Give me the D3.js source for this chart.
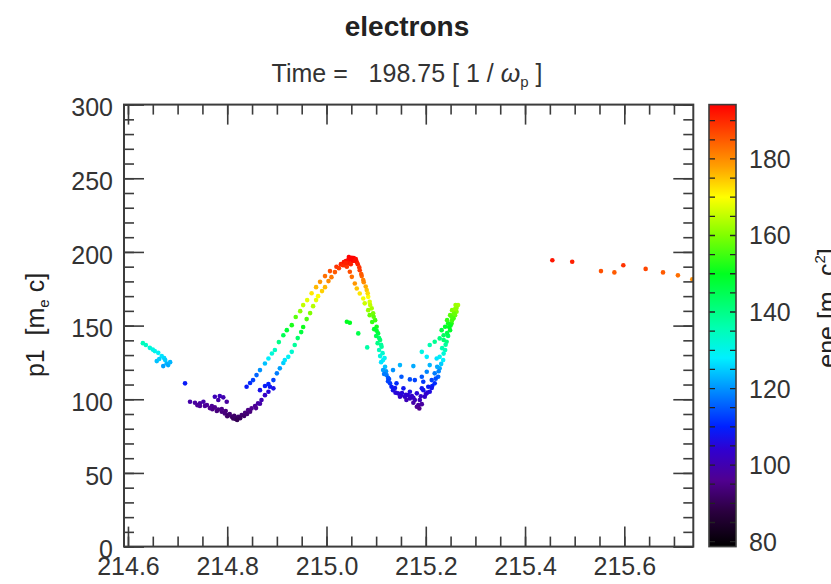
<!DOCTYPE html>
<html>
<head>
<meta charset="utf-8">
<script src="https://cdn.jsdelivr.net/npm/d3@7"></script>
<style>
  body { margin: 0; background: #fff; }
  text { font-family: "Liberation Sans", Arial, Helvetica, sans-serif; }
</style>
</head>
<body>
<svg id="chart" width="831" height="584"></svg>
<script>
// ---- data: [x1 (c/wp), p1 (me c), ene (me c^2)] ----
var leftCluster = [
  [214.630, 138.1, 135], [214.636, 136.8, 134], [214.644, 134.9, 132], [214.650, 133.7, 131],
  [214.654, 132.7, 130], [214.661, 131.5, 129], [214.668, 129.3, 127], [214.673, 127.9, 126],
  [214.675, 126.6, 125], [214.678, 124.3, 123], [214.658, 125.9, 124], [214.663, 127.3, 125],
  [214.671, 122.5, 121], [214.681, 123.2, 122], [214.685, 125.2, 123], [214.715, 110.8, 109]
]
var trough = [
  [214.725, 98.3, 99], [214.735, 97.6, 98], [214.745, 97.2, 98], [214.752, 98.3, 99],
  [214.759, 96.1, 97], [214.769, 95.4, 97], [214.775, 94.5, 96], [214.782, 93.1, 95],
  [214.789, 91.5, 94], [214.795, 90.4, 94], [214.802, 89.3, 93], [214.809, 88.1, 92],
  [214.816, 87.4, 91], [214.822, 88.1, 92], [214.829, 89.3, 93], [214.836, 90.8, 94],
  [214.842, 92.7, 95], [214.849, 93.8, 96], [214.856, 95.4, 97], [214.862, 97.2, 98],
  [214.869, 99.5, 100], [214.876, 102.8, 103], [214.883, 105.1, 105], [214.886, 108.5, 108],
  [214.893, 107.4, 107], [214.789, 93.3, 95], [214.805, 90.0, 93], [214.817, 86.6, 91],
  [214.826, 87.2, 91], [214.812, 86.9, 91], [214.834, 88.6, 92], [214.797, 92.0, 94],
  [214.770, 93.3, 95], [214.745, 95.4, 97], [214.775, 101.7, 101], [214.785, 102.2, 101],
  [214.792, 101.3, 100], [214.782, 99.5, 99], [214.799, 98.3, 98],
  [214.740, 96.0, 97], [214.755, 95.5, 97], [214.765, 94.0, 96], [214.779, 92.0, 94],
  [214.800, 88.5, 92], [214.814, 88.8, 92], [214.820, 86.0, 90], [214.840, 90.0, 93],
  [214.846, 91.5, 94], [214.858, 94.0, 96], [214.866, 97.0, 99]
]
var risingOuter = [
  [214.839, 108.5, 109], [214.846, 111.0, 111], [214.852, 113.0, 113], [214.859, 116.4, 116],
  [214.866, 119.8, 120], [214.876, 124.3, 124], [214.883, 127.7, 128], [214.890, 131.1, 132],
  [214.896, 133.4, 134], [214.904, 138.8, 140], [214.913, 143.5, 145], [214.920, 146.9, 148],
  [214.930, 150.3, 152], [214.938, 155.8, 157], [214.947, 159.8, 161], [214.953, 163.9, 165],
  [214.961, 167.3, 168], [214.970, 172.0, 172], [214.979, 176.1, 176], [214.987, 179.7, 179],
  [214.997, 183.6, 183], [215.007, 187.0, 186], [215.020, 189.9, 189], [215.029, 191.7, 191],
  [215.039, 193.8, 193], [215.047, 194.8, 194]
]
var risingInner = [
  [214.866, 106.2, 107], [214.876, 109.0, 109], [214.883, 110.3, 110], [214.893, 113.0, 113],
  [214.900, 117.6, 118], [214.906, 121.0, 121], [214.913, 124.6, 125], [214.916, 126.6, 127],
  [214.923, 128.8, 129], [214.930, 132.2, 133], [214.936, 136.8, 138], [214.942, 141.5, 143],
  [214.949, 145.6, 147], [214.953, 149.0, 151], [214.960, 154.4, 156], [214.967, 158.5, 160],
  [214.973, 163.2, 164], [214.979, 167.3, 168], [214.983, 170.0, 170], [214.991, 173.4, 174],
  [214.997, 176.1, 176], [215.004, 180.2, 180], [215.010, 182.9, 182], [215.017, 186.3, 185],
  [215.025, 189.0, 188], [215.033, 191.0, 190]
]
var peak = [
  [215.035, 193.1, 192], [215.043, 194.4, 193], [215.047, 195.8, 194], [215.051, 196.1, 194],
  [215.055, 195.8, 194], [215.059, 195.1, 193], [215.053, 193.8, 193], [215.045, 192.4, 192],
  [215.061, 193.1, 192], [215.037, 191.0, 190], [215.041, 190.0, 189], [215.049, 191.7, 191],
  [215.045, 196.5, 194], [215.050, 195.0, 194], [215.057, 194.0, 193], [215.039, 192.5, 191]
]
var descentOuter = [
  [215.063, 191.7, 191], [215.067, 187.6, 188], [215.071, 183.6, 184], [215.075, 179.5, 180],
  [215.081, 174.1, 175], [215.084, 169.5, 170], [215.087, 166.1, 167], [215.091, 161.7, 163],
  [215.094, 158.3, 159], [215.098, 153.7, 155], [215.101, 149.2, 151], [215.104, 144.7, 147],
  [215.108, 140.2, 142], [215.111, 135.6, 138], [215.113, 131.3, 133], [215.114, 126.6, 129],
  [215.118, 122.0, 124], [215.121, 116.4, 118], [215.128, 110.8, 112], [215.134, 106.2, 107],
  [215.144, 104.0, 105], [215.158, 101.7, 103], [215.168, 100.6, 102], [215.178, 99.5, 101],
  [215.185, 96.1, 98], [215.188, 99.5, 101], [215.198, 101.7, 103], [215.208, 105.1, 106],
  [215.218, 110.8, 111], [215.225, 115.3, 116], [215.228, 121.0, 122], [215.235, 126.6, 128],
  [215.239, 133.4, 135], [215.242, 139.0, 141], [215.249, 146.9, 149], [215.252, 151.5, 153],
  [215.259, 157.1, 158], [215.262, 159.4, 160], [215.265, 163.9, 163]
]
var descentBand = [
  [215.066, 189.5, 189], [215.070, 185.0, 185], [215.074, 181.0, 181], [215.079, 176.5, 177],
  [215.083, 172.0, 173], [215.088, 164.0, 165], [215.095, 156.0, 157], [215.101, 146.5, 148],
  [215.106, 141.5, 143], [215.110, 137.0, 138], [215.117, 128.0, 129], [215.120, 119.0, 120],
  [215.124, 114.5, 115], [215.131, 108.5, 109], [215.139, 104.5, 105], [215.150, 102.5, 104],
  [215.160, 103.0, 104], [215.175, 101.0, 102], [215.190, 102.0, 103], [215.203, 104.5, 105],
  [215.213, 109.0, 110], [215.220, 114.0, 114], [215.226, 119.0, 119], [215.231, 124.0, 125],
  [215.236, 131.0, 132], [215.240, 137.0, 138], [215.245, 143.0, 144], [215.250, 150.0, 151],
  [215.256, 155.0, 155], [215.262, 162.0, 161], [215.260, 164.0, 162]
]
var descentInner = [
  [215.047, 186.5, 186], [215.051, 183.1, 183], [215.057, 178.6, 179], [215.061, 175.2, 175],
  [215.067, 171.8, 172], [215.074, 168.4, 169], [215.077, 165.1, 166], [215.084, 160.5, 162],
  [215.087, 157.1, 158], [215.092, 152.4, 154], [215.096, 147.6, 149], [215.100, 142.9, 145],
  [215.103, 138.1, 140], [215.106, 133.4, 135], [215.108, 129.3, 131], [215.110, 125.2, 127],
  [215.114, 119.8, 121]
]
var loopInner = [
  [215.126, 113.7, 114], [215.141, 110.8, 111], [215.155, 107.4, 108], [215.168, 105.1, 106],
  [215.182, 104.0, 105], [215.195, 106.2, 107], [215.205, 108.5, 109], [215.212, 113.0, 113],
  [215.218, 117.6, 118], [215.223, 122.0, 122], [215.228, 128.8, 129], [215.233, 134.7, 136],
  [215.236, 140.2, 142], [215.243, 144.9, 146], [215.247, 149.0, 150], [215.253, 153.7, 155],
  [215.257, 158.3, 159]
]
var loopBottom = [
  [215.148, 101.7, 103], [215.161, 99.5, 101], [215.175, 97.6, 99], [215.182, 94.9, 97],
  [215.187, 93.8, 96], [215.192, 96.7, 98], [215.152, 104.2, 105], [215.164, 102.8, 104],
  [215.172, 102.2, 103], [215.200, 103.5, 104], [215.212, 107.6, 108], [215.138, 107.6, 108],
  [215.124, 112.3, 113], [215.116, 117.1, 118]
]
var loopScatter = [
  [215.148, 123.2, 123], [215.175, 122.5, 122], [215.134, 119.8, 120], [215.151, 115.3, 115],
  [215.168, 113.5, 114], [215.178, 113.0, 113], [215.192, 115.3, 115], [215.202, 118.7, 119],
  [215.208, 123.2, 123], [215.195, 111.9, 112], [215.192, 107.4, 108], [215.192, 132.2, 131],
  [215.202, 128.8, 128], [215.208, 136.8, 136], [215.218, 139.0, 139], [215.222, 127.7, 127],
  [215.228, 141.3, 141], [215.232, 146.9, 147], [215.239, 149.2, 149], [215.245, 151.5, 151],
  [215.249, 157.1, 157], [215.252, 156.0, 156], [215.257, 158.3, 158], [215.236, 143.5, 144],
  [215.243, 153.7, 154], [215.253, 160.5, 160], [215.259, 161.2, 161]
]
var strayGreen = [
  [215.041, 152.6, 150], [215.047, 151.9, 150], [215.064, 144.7, 146], [215.082, 135.2, 137]
]
var farRight = [
  [215.455, 194.4, 192], [215.495, 193.3, 191], [215.553, 187.0, 186], [215.580, 186.1, 185],
  [215.598, 191.0, 189], [215.643, 188.5, 187], [215.678, 186.1, 185], [215.708, 184.1, 183],
  [215.737, 181.5, 180]
]

// axis ranges and ticks
var xRange = [214.592, 215.739]
var yRange = [0, 300]
var eneRange = [78.7, 194.2]
var xMajor = [214.6, 214.8, 215.0, 215.2, 215.4, 215.6]
var yMajor = [0, 50, 100, 150, 200, 250, 300]
var cbLabels = [80, 100, 120, 140, 160, 180]

// colour table (black -> purple -> blue -> cyan -> green -> yellow -> red)
var cmapStops = [78.7, 88, 96, 104, 110, 117, 128, 136, 150, 160, 170, 178, 186, 194.2]
var cmapColors = ["#000000", "#2b0040", "#500090", "#3000d0", "#0020ff", "#0070ff", "#00f0ff",
  "#00ffb0", "#00ff20", "#80ff00", "#ffff00", "#ffa000", "#ff5000", "#ff0000"]

var WIDTH = 831, HEIGHT = 584
var PLOT = { left: 124, right: 693.3, top: 104.6, bottom: 546.6 }
var CB = { left: 709, right: 736 }
var AXIS_COLOR = "#3c3c3c"
var LABEL_COLOR = "#333"
var MAJOR = 20, MINOR = 10

var svg = d3.select("#chart")
svg.append("rect").attr("width", WIDTH).attr("height", HEIGHT).attr("fill", "white")

var x = d3.scaleLinear().domain(xRange).range([PLOT.left, PLOT.right])
var y = d3.scaleLinear().domain(yRange).range([PLOT.bottom, PLOT.top])
var cbY = d3.scaleLinear().domain(eneRange).range([PLOT.bottom, PLOT.top])
var color = d3.scaleLinear().domain(cmapStops).range(cmapColors).clamp(true)

// particles
svg.append("clipPath").attr("id", "plotClip")
  .append("rect")
  .attr("x", PLOT.left).attr("y", PLOT.top)
  .attr("width", PLOT.right - PLOT.left).attr("height", PLOT.bottom - PLOT.top)

var particles = [].concat(leftCluster, trough, risingOuter, risingInner, peak, descentOuter,
  descentBand, descentInner, loopInner, loopBottom, loopScatter, strayGreen, farRight)

svg.append("g").attr("clip-path", "url(#plotClip)")
  .selectAll("circle")
  .data(particles)
  .enter().append("circle")
  .attr("cx", function(d) { return x(d[0]) })
  .attr("cy", function(d) { return y(d[1]) })
  .attr("r", 2.3)
  .attr("fill", function(d) { return color(d[2]) })

// axes: ticks point inwards on all four sides
function styleAxis(g) {
  g.select(".domain").remove()
  g.selectAll("line").attr("stroke", AXIS_COLOR).attr("stroke-width", 1.6)
  g.selectAll("text").attr("fill", LABEL_COLOR).attr("font-size", 25)
}

function minorTicks(scale, step) {
  var d = scale.domain()
  return d3.range(Math.ceil(d[0] / step - 1e-6) * step, d[1] + 1e-9, step)
}

var xMinor = minorTicks(x, 0.05)
var yMinor = minorTicks(y, 10)
var fmtX = d3.format(".1f")

function drawAxes(axisFn, scale, major, minor, tx, ty, labels, fmt) {
  svg.append("g").attr("transform", "translate(" + tx + "," + ty + ")")
    .call(axisFn(scale).tickValues(minor).tickSize(-MINOR).tickFormat(""))
    .call(styleAxis)
  var g = svg.append("g").attr("transform", "translate(" + tx + "," + ty + ")")
    .call(axisFn(scale).tickValues(major).tickSize(-MAJOR).tickPadding(labels ? 11 : 0)
      .tickFormat(labels ? fmt : ""))
    .call(styleAxis)
  return g
}

drawAxes(d3.axisBottom, x, xMajor, xMinor, 0, PLOT.bottom, true, fmtX)
drawAxes(d3.axisTop, x, xMajor, xMinor, 0, PLOT.top, false)
var gy = drawAxes(d3.axisLeft, y, yMajor, yMinor, PLOT.left, 0, true, d3.format("d"))
gy.selectAll("text").attr("dy", "0.45em")
drawAxes(d3.axisRight, y, yMajor, yMinor, PLOT.right, 0, false)

svg.append("rect")
  .attr("x", PLOT.left).attr("y", PLOT.top)
  .attr("width", PLOT.right - PLOT.left).attr("height", PLOT.bottom - PLOT.top)
  .attr("fill", "none").attr("stroke", AXIS_COLOR).attr("stroke-width", 2)

// colour bar
var grad = svg.append("defs").append("linearGradient")
  .attr("id", "cbGrad").attr("x1", 0).attr("y1", 1).attr("x2", 0).attr("y2", 0)
grad.selectAll("stop")
  .data(cmapStops)
  .enter().append("stop")
  .attr("offset", function(v) { return (v - eneRange[0]) / (eneRange[1] - eneRange[0]) })
  .attr("stop-color", function(v, i) { return cmapColors[i] })

svg.append("rect")
  .attr("x", CB.left).attr("y", PLOT.top)
  .attr("width", CB.right - CB.left).attr("height", PLOT.bottom - PLOT.top)
  .attr("fill", "url(#cbGrad)")

var cbTicks = d3.range(80, 195, 5)
svg.append("g").selectAll("path")
  .data(cbTicks)
  .enter().append("path")
  .attr("d", function(v) {
    var yy = cbY(v)
    return "M" + CB.left + "," + yy + "h6M" + CB.right + "," + yy + "h-6"
  })
  .attr("stroke", "#222").attr("stroke-width", 1.3)

svg.append("rect")
  .attr("x", CB.left).attr("y", PLOT.top)
  .attr("width", CB.right - CB.left).attr("height", PLOT.bottom - PLOT.top)
  .attr("fill", "none").attr("stroke", AXIS_COLOR).attr("stroke-width", 1.6)

svg.append("g").selectAll("text")
  .data(cbLabels)
  .enter().append("text")
  .attr("x", 749)
  .attr("y", function(v) { return cbY(v) })
  .attr("dy", "0.36em")
  .attr("font-size", 25)
  .attr("fill", LABEL_COLOR)
  .text(function(v) { return v })

// titles
svg.append("text")
  .attr("x", 407).attr("y", 36)
  .attr("text-anchor", "middle")
  .attr("font-size", 28).attr("font-weight", "bold").attr("fill", "#222")
  .text("electrons")

var sub = svg.append("text")
  .attr("x", 407).attr("y", 82)
  .attr("text-anchor", "middle")
  .attr("font-size", 25).attr("fill", LABEL_COLOR)
  .style("white-space", "pre")
sub.append("tspan").text("Time =   198.75 [ 1 / ")
sub.append("tspan").attr("font-style", "italic").text("\u03c9")
sub.append("tspan").attr("font-size", 15).attr("dy", 5).text("p")
sub.append("tspan").attr("dy", -5).text(" ]")

var ylab = svg.append("text")
  .attr("transform", "translate(44,325) rotate(-90)")
  .attr("text-anchor", "middle")
  .attr("font-size", 25).attr("fill", "#222")
  .style("white-space", "pre")
ylab.append("tspan").text("p1  [m")
ylab.append("tspan").attr("font-size", 15).attr("dy", 5).text("e")
ylab.append("tspan").attr("dy", -5).text(" c]")

var clab = svg.append("text")
  .attr("transform", "translate(836,308) rotate(-90)")
  .attr("text-anchor", "middle")
  .attr("font-size", 25).attr("fill", "#222")
  .style("white-space", "pre")
clab.append("tspan").text("ene [m")
clab.append("tspan").attr("font-size", 15).attr("dy", 5).text("e")
clab.append("tspan").attr("dy", -5).text(" c")
clab.append("tspan").attr("font-size", 15).attr("dy", -11).text("2")
clab.append("tspan").attr("dy", 11).text("]")
</script>
</body>
</html>
